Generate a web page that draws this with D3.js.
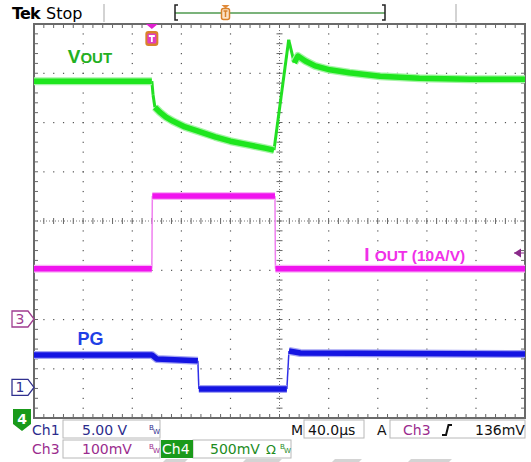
<!DOCTYPE html>
<html>
<head>
<meta charset="utf-8">
<script src="https://cdn.jsdelivr.net/npm/d3@7"></script>
<style>
  body { margin: 0; background: #fff; }
  svg { display: block; font-family: 'DejaVu Sans', sans-serif; }
</style>
</head>
<body>
<div id="scope"></div>
<script>
// time in µs (40 µs/div), level in screen divisions from the centre line
const voutTime = [0, 96, 97, 98.5, 102.5, 107.5, 113, 123, 133, 147.5, 160, 176, 188, 195.5, 207.5, 212, 215, 221, 229, 241, 257, 282, 314, 355, 400]
const voutDiv = [2.84, 2.84, 2.56, 2.31, 2.21, 2.11, 2.03, 1.91, 1.83, 1.71, 1.62, 1.54, 1.48, 1.44, 3.68, 3.21, 3.35, 3.25, 3.15, 3.07, 3.01, 2.94, 2.9, 2.88, 2.88]
const ioutTime = [0, 96, 96.4, 196.3, 196.7, 400]
const ioutDiv = [-0.97, -0.97, 0.51, 0.51, -0.97, -0.97]
const pgTime = [0, 96, 100, 133.5, 134.3, 206, 207.7, 217, 400]
const pgDiv = [-2.72, -2.72, -2.8, -2.84, -3.41, -3.41, -2.64, -2.68, -2.7]
const timeTicks = d3.range(0, 401, 40)
const divTicks = d3.range(-4, 5, 1)
const chMarkers = [
  { ch: '3', level: -1.99, color: '#a03c90' },
  { ch: '1', level: -3.38, color: '#30308f' }
]

let _width = 531
let _height = 462
let svg = d3.select('#scope').append('svg').attr('width', _width).attr('height', _height)

let x = d3.scaleLinear().domain([0, 400]).range([34, 525])
let y = d3.scaleLinear().domain([-4, 4]).range([418, 24])

/* header */
svg.append('text').attr('x', 12).attr('y', 19).style('font-size', '16px').style('font-weight', 'bold')
  .attr('letter-spacing', '-0.8').text('Tek')
svg.append('text').attr('x', 46).attr('y', 19).style('font-size', '16px').text('Stop')
;[104, 456].forEach(px => {
  svg.append('line').attr('x1', px).attr('x2', px).attr('y1', 4).attr('y2', 22)
    .attr('stroke', '#c4c4c4').attr('stroke-width', 1.5)
})
svg.append('line').attr('x1', 175).attr('x2', 385).attr('y1', 13).attr('y2', 13)
  .attr('stroke', '#4f9a4f').attr('stroke-width', 1.5)
svg.append('path').attr('d', 'M178,5H175V20H178M382,5H385V20H382').attr('fill', 'none')
  .attr('stroke', '#222').attr('stroke-width', 1.5)
svg.append('path').attr('d', 'M221.5,5H229.5L225.5,8.5Z').attr('fill', '#e08a3a')
svg.append('rect').attr('x', 221.5).attr('y', 8.5).attr('width', 8).attr('height', 11).attr('rx', 2)
  .attr('fill', '#fbe3c8').attr('stroke', '#d9822b').attr('stroke-width', 1.5)
svg.append('path').attr('d', 'M223.5,11H227.5M225.5,11V17').attr('stroke', '#d9822b').attr('stroke-width', 1.5)

/* graticule */
let grid = svg.append('g')
timeTicks.slice(1, -1).forEach(t => {
  if (t === 200) return
  d3.range(-4, 4.01, 0.2).forEach(v => {
    grid.append('rect').attr('x', x(t) - 0.5).attr('y', y(v) - 0.5).attr('width', 1.2).attr('height', 1.2).attr('fill', '#555')
  })
})
divTicks.slice(1, -1).forEach(v => {
  if (v === 0) return
  d3.range(0, 400.01, 8).forEach(t => {
    grid.append('rect').attr('x', x(t) - 0.5).attr('y', y(v) - 0.5).attr('width', 1.2).attr('height', 1.2).attr('fill', '#555')
  })
})
// centre cross with minor ticks
grid.append('line').attr('x1', x(0)).attr('x2', x(400)).attr('y1', y(0)).attr('y2', y(0))
  .attr('stroke', '#777').attr('stroke-dasharray', '1,2')
grid.append('line').attr('x1', x(200)).attr('x2', x(200)).attr('y1', y(-4)).attr('y2', y(4))
  .attr('stroke', '#777').attr('stroke-dasharray', '1,2')
d3.range(0, 400.01, 8).forEach(t => {
  grid.append('line').attr('x1', x(t)).attr('x2', x(t)).attr('y1', y(0) - 3).attr('y2', y(0) + 3).attr('stroke', '#666')
  grid.append('line').attr('x1', x(t)).attr('x2', x(t)).attr('y1', y(4)).attr('y2', y(4) + 4).attr('stroke', '#666')
  grid.append('line').attr('x1', x(t)).attr('x2', x(t)).attr('y1', y(-4)).attr('y2', y(-4) - 4).attr('stroke', '#666')
})
d3.range(-4, 4.01, 0.2).forEach(v => {
  grid.append('line').attr('x1', x(200) - 3).attr('x2', x(200) + 3).attr('y1', y(v)).attr('y2', y(v)).attr('stroke', '#666')
  grid.append('line').attr('x1', x(0)).attr('x2', x(0) + 4).attr('y1', y(v)).attr('y2', y(v)).attr('stroke', '#666')
  grid.append('line').attr('x1', x(400)).attr('x2', x(400) - 4).attr('y1', y(v)).attr('y2', y(v)).attr('stroke', '#666')
})
grid.append('rect').attr('x', x(0)).attr('y', y(4)).attr('width', x(400) - x(0)).attr('height', y(-4) - y(4))
  .attr('fill', 'none').attr('stroke', '#6a6a6a').attr('stroke-width', 2)

/* traces */
let line = d3.line().x(d => x(d.t)).y(d => y(d.v))
function trace(times, levels, core, halo, edge, edgeW) {
  let pts = times.map((t, i) => ({ t: t, v: levels[i] }))
  let runs = []
  let edges = []
  let cur = [pts[0]]
  for (let i = 1; i < pts.length; i++) {
    let dx = Math.abs(x(pts[i].t) - x(pts[i - 1].t))
    let dy = Math.abs(y(pts[i].v) - y(pts[i - 1].v))
    if (dy > 8 && dy > 2.5 * dx) {
      edges.push([pts[i - 1], pts[i]])
      if (cur.length > 1) runs.push(cur)
      cur = [pts[i]]
    } else {
      cur.push(pts[i])
    }
  }
  if (cur.length > 1) runs.push(cur)
  let g = svg.append('g').attr('fill', 'none').attr('stroke-linejoin', 'round').attr('stroke-linecap', 'butt')
  g.selectAll('.edge').data(edges).enter().append('path').attr('class', 'edge')
    .attr('d', line).attr('stroke', edge).attr('stroke-width', edgeW)
  g.selectAll('.halo').data(runs).enter().append('path').attr('class', 'halo')
    .attr('d', line).attr('stroke', halo).attr('stroke-width', 8)
  g.selectAll('.core').data(runs).enter().append('path').attr('class', 'core')
    .attr('d', line).attr('stroke', core).attr('stroke-width', 5.5)
}
trace(voutTime, voutDiv, '#1ee61e', '#a6f4a6', '#22e022', 3)
trace(ioutTime, ioutDiv, '#f014ee', '#f8b4f6', '#f080f0', 1.5)
trace(pgTime, pgDiv, '#1414e2', '#a4a4f4', '#3030e8', 1.5)

/* trace labels */
let vLab = svg.append('text').attr('x', x(27.5)).attr('y', y(3.2))
  .style('font-family', "'Liberation Sans', Arial, sans-serif").style('font-weight', 'bold').attr('fill', '#22b022')
vLab.append('tspan').style('font-size', '19px').text('V')
vLab.append('tspan').style('font-size', '15px').text('OUT')
svg.append('text').attr('x', x(35.5)).attr('y', y(-2.51))
  .style('font-family', "'Liberation Sans', Arial, sans-serif").style('font-weight', 'bold')
  .style('font-size', '18px').attr('fill', '#1f3fe6').text('PG')
let iLab = svg.append('text').attr('x', x(269)).attr('y', y(-0.82))
  .style('font-family', "'Liberation Sans', Arial, sans-serif").style('font-weight', 'bold').attr('fill', '#f030e8')
iLab.append('tspan').style('font-size', '19px').text('I ')
iLab.append('tspan').style('font-size', '15.5px').text('OUT (10A/V)')

/* trigger markers */
svg.append('path').attr('d', `M${x(96) - 6},24H${x(96) + 6}L${x(96)},29Z`).attr('fill', '#e020d0')
svg.append('rect').attr('x', x(96) - 6.5).attr('y', 31).attr('width', 13).attr('height', 15).attr('rx', 3).attr('fill', '#d9822b')
svg.append('rect').attr('x', x(96) - 4.5).attr('y', 33.5).attr('width', 9).attr('height', 10).attr('rx', 1.5).attr('fill', '#e23cc0')
svg.append('path').attr('d', `M${x(96) - 3},36H${x(96) + 3}M${x(96)},36V42`).attr('stroke', '#fff').attr('stroke-width', 1.8)
svg.append('path').attr('d', `M${x(400) - 11},${y(-0.65)}L${x(400) - 4},${y(-0.65) - 4.5}V${y(-0.65) + 4.5}Z`).attr('fill', '#8a2a8a')
svg.append('line').attr('x1', x(400) - 11).attr('x2', x(400) - 1).attr('y1', y(-0.65)).attr('y2', y(-0.65)).attr('stroke', '#8a2a8a')

/* channel ground markers */
chMarkers.forEach(m => {
  let cy = y(m.level)
  svg.append('path').attr('d', `M12,${cy - 8}H28L34,${cy}L28,${cy + 8}H12Z`)
    .attr('fill', '#fff').attr('stroke', m.color).attr('stroke-width', 1.3)
  svg.append('text').attr('x', 20).attr('y', cy + 5).attr('text-anchor', 'middle')
    .style('font-size', '14px').attr('fill', m.color).text(m.ch)
})
svg.append('path').attr('d', 'M13,409H31V424L22,431L13,424Z').attr('fill', '#1a9a1a')
svg.append('text').attr('x', 22).attr('y', 424).attr('text-anchor', 'middle')
  .style('font-size', '14px').style('font-weight', 'bold').attr('fill', '#fff').text('4')

/* status bar */
function box(x0, y0, w, h) {
  svg.append('rect').attr('x', x0).attr('y', y0).attr('width', w).attr('height', h)
    .attr('fill', '#fff').attr('stroke', '#b8b8b8').attr('stroke-width', 1)
}
function txt(px, py, s, color, size) {
  return svg.append('text').attr('x', px).attr('y', py).style('font-size', (size || 14) + 'px').attr('fill', color).text(s)
}
function bw(px, py, color) {
  txt(px, py - 4, 'B', color, 7)
  txt(px + 4, py, 'W', color, 7)
}
box(63, 420, 97, 18)
box(63, 440, 97, 18)
box(304, 420, 60, 18)
box(390, 420, 135, 18)
box(193, 440, 98, 18)
svg.append('rect').attr('x', 161).attr('y', 440).attr('width', 32).attr('height', 18).attr('fill', '#1a9a1a')

txt(32, 435, 'Ch1', '#2c2c8c')
txt(82, 435, '5.00 V', '#2c2c8c')
bw(149, 434, '#2c2c8c')
txt(32, 454, 'Ch3', '#9b2d8e')
txt(82, 454, '100mV', '#9b2d8e')
bw(149, 453, '#9b2d8e')
txt(162, 454, 'Ch4', '#fff')
txt(210, 454, '500mV', '#1e8c1e')
txt(266, 454, 'Ω', '#1e8c1e', 13)
bw(280, 453, '#1e8c1e')
txt(291, 435, 'M', '#111')
txt(308, 435, '40.0µs', '#111')
txt(377, 435, 'A', '#111')
txt(403, 435, 'Ch3', '#9b2d8e')
svg.append('path').attr('d', 'M442,435H446L448.5,425H452').attr('fill', 'none').attr('stroke', '#111').attr('stroke-width', 2)
txt(475, 435, '136mV', '#111')

/* faint watermark fragments at the bottom edge */
;[[163, 188], [243, 282], [332, 362], [408, 452]].forEach(s => {
  svg.append('path').attr('d', `M${s[0] + 3},459H${s[1]}L${s[1] - 3},462H${s[0]}Z`).attr('fill', '#d4d4d4')
})
</script>
</body>
</html>
